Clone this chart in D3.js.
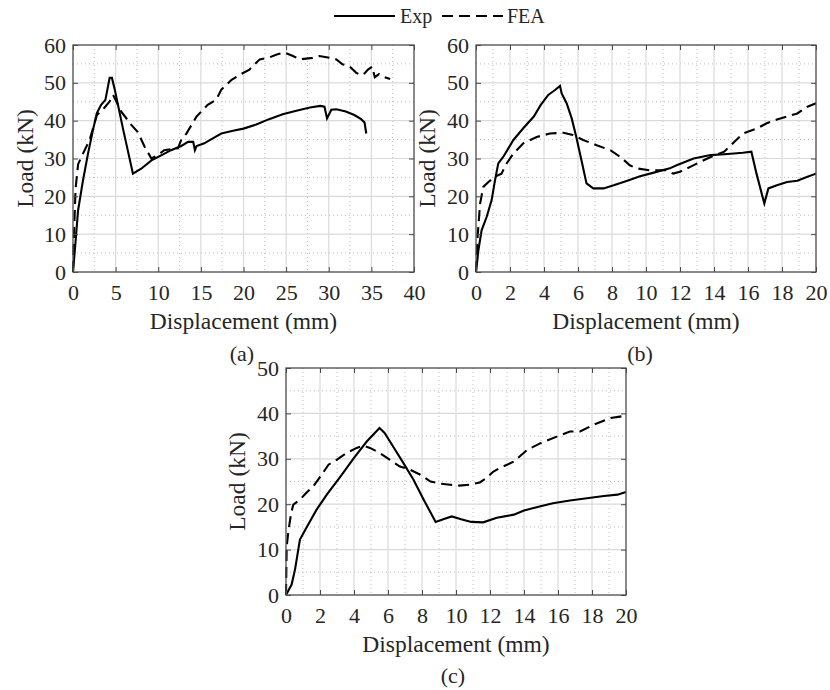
<!DOCTYPE html>
<html><head><meta charset="utf-8">
<script src="https://cdn.jsdelivr.net/npm/d3@7"></script>
<style>body{margin:0;background:#fff;} svg{display:block;}</style>
</head><body>
<svg id="chart" width="830" height="690"></svg>
<script>
// ---------------- DATA ----------------
const seriesNames = ["Exp", "FEA"];
const panelLabels = ["(a)", "(b)", "(c)"];
const xLabel = "Displacement (mm)";
const yLabel = "Load (kN)";

const ticksXA = [0,5,10,15,20,25,30,35,40];
const ticksXB = [0,2,4,6,8,10,12,14,16,18,20];
const ticksY60 = [0,10,20,30,40,50,60];
const ticksY50 = [0,10,20,30,40,50];

const expA = [[0,0],[0.3,8],[0.59,16.2],[1.17,24.2],[1.76,31.3],[2.34,37.5],[2.8,42],[3.3,44.2],[3.8,45.5],[4.1,49],[4.3,51.3],[4.57,51.3],[4.9,48.2],[5.9,37.5],[7.03,26],[8,27.3],[9.2,29.5],[10.4,30.9],[11.5,32.2],[12.7,33.3],[13.5,34.4],[14.1,34.4],[14.3,32.2],[14.5,33.3],[15.4,34],[16.4,35.3],[17.4,36.6],[18.9,37.4],[20,37.9],[21.5,39],[23,40.4],[24.6,41.7],[26.2,42.6],[27.8,43.5],[29,43.9],[29.5,43.7],[29.8,40.6],[30.3,42.9],[30.9,43],[32,42.4],[33,41.5],[33.8,40.4],[34.2,39.5],[34.4,36.6]];
const feaA = [[0,0],[0.1,9],[0.3,22],[0.6,28.5],[1.17,31.3],[1.95,34.9],[2.8,41.5],[3.5,42.9],[4.3,45.1],[4.7,46.8],[5.1,45],[5.66,42.4],[6.84,38.9],[7.6,37],[8.4,33.1],[9.2,30],[10,31],[10.7,32.2],[12.3,32.7],[12.7,34.9],[13.3,36.6],[14.5,41.1],[15.8,44.2],[16.8,45.5],[17.4,48.2],[18.6,50.8],[19.6,52.2],[20.7,53.5],[21.9,56.2],[22.9,56.6],[23.9,57.5],[24.8,58],[25.8,57.1],[26.6,56.2],[28.1,56.6],[28.9,57.1],[30.1,56.6],[30.9,56.2],[31.6,54.9],[32.4,54.4],[33.2,52.7],[33.8,52],[34.2,52.5],[34.6,53.5],[35.1,54.3],[35.4,51.5],[35.9,52.3],[36.4,51.6],[37.2,51]];

const expB = [[0,0],[0.14,5.7],[0.33,11],[0.63,14.6],[0.92,19],[1.12,24.3],[1.31,28.7],[1.6,30.4],[2.2,34.9],[2.78,38],[3.4,41.1],[3.8,44.1],[4.25,46.8],[4.65,48.1],[4.94,49.2],[5.04,47.2],[5.33,44.6],[5.63,40.6],[5.9,35.7],[6.2,29.6],[6.5,23.4],[6.9,22.1],[7.5,22.1],[8.1,22.9],[8.9,24.1],[9.65,25.3],[10.4,26.2],[11.4,27.4],[11.8,28.2],[12.8,30],[13.8,30.9],[14.8,31.2],[15.7,31.5],[16.2,31.8],[16.5,26],[16.96,18.1],[17.2,22.1],[17.7,22.9],[18.3,23.8],[18.9,24.1],[19.5,25.2],[20,26]];
const feaB = [[0,0],[0.08,8.4],[0.24,18.1],[0.43,22.5],[0.73,23.8],[1.12,25.2],[1.5,26],[1.8,28.7],[2.2,31.3],[2.78,34],[3.57,35.7],[4.35,36.6],[5.14,36.8],[5.7,36.2],[6.3,34.9],[7.1,33.5],[7.9,32.2],[8.5,30.4],[9.05,28.2],[9.45,27.4],[10.2,26.9],[10.8,26.9],[11.2,26.9],[11.6,26],[12,26.5],[12.6,27.8],[13.2,29.1],[13.8,30.4],[14.6,31.8],[15.2,34.4],[15.7,36.6],[16.5,37.9],[17.1,39.3],[17.7,40.3],[18.3,41.1],[18.9,41.9],[19.5,43.7],[20,44.6]];

const expC = [[0,0],[0.33,2.3],[0.53,5.6],[0.82,12.2],[1.2,14.8],[1.8,18.8],[2.4,22.1],[3.2,26.1],[4,30.2],[4.75,33.8],[5.5,36.8],[5.8,35.7],[6.3,32.7],[6.9,29.1],[7.5,25.4],[8.1,21],[8.8,16.1],[9.25,16.7],[9.75,17.3],[10.3,16.7],[10.9,16.1],[11.6,16],[12.4,17],[13.4,17.7],[14,18.6],[14.8,19.4],[15.7,20.2],[16.7,20.8],[17.7,21.3],[18.7,21.8],[19.5,22.1],[20,22.7]];
const feaC = [[0,0],[0.04,10.7],[0.14,14],[0.3,18],[0.43,19.9],[0.82,21],[1.2,22.5],[1.6,23.9],[2.1,26.5],[2.5,28.7],[3,29.8],[3.57,31.3],[4.16,32.4],[4.55,32.9],[4.94,32.4],[5.5,31.3],[6.1,29.8],[6.7,28.3],[7.3,27.6],[7.9,26.5],[8.5,25],[9.1,24.5],[9.65,24.3],[10.2,24.1],[10.8,24.3],[11.4,24.8],[11.8,25.8],[12.2,27.2],[12.6,28],[13.4,29.4],[14.2,32],[15,33.5],[16,35],[16.7,36],[17.3,36],[18.1,37.5],[19.1,39],[20,39.5]];

// ---------------- DRAW ----------------
const svg = d3.select("#chart");
const FONT = "Liberation Serif";
const TXT = "#262626";
const DASH = "11,6";

const panels = [
  {rect:[73,45,414,272], xd:[0,40], yd:[0,60], xt:ticksXA, yt:ticksY60, xminor:2.5, yminor:5, exp:expA, fea:feaA, ylabX:25},
  {rect:[476,45,816,272], xd:[0,20], yd:[0,60], xt:ticksXB, yt:ticksY60, xminor:1, yminor:5, exp:expB, fea:feaB, ylabX:427},
  {rect:[286,368,626,595], xd:[0,20], yd:[0,50], xt:ticksXB, yt:ticksY50, xminor:1, yminor:5, exp:expC, fea:feaC, ylabX:237}
];

panels.forEach((p, i) => {
  const [x0,y0,x1,y1] = p.rect;
  const x = d3.scaleLinear().domain(p.xd).range([x0,x1]);
  const y = d3.scaleLinear().domain(p.yd).range([y1,y0]);
  const g = svg.append("g");

  // minor grid (dotted)
  const xm = d3.range(p.xd[0] + p.xminor, p.xd[1], p.xminor*2);
  const ym = d3.range(p.yd[0] + p.yminor, p.yd[1], p.yminor*2);
  g.append("g").selectAll("line").data(xm).join("line")
    .attr("x1", d => x(d)).attr("x2", d => x(d)).attr("y1", y0).attr("y2", y1)
    .attr("stroke", "#bdbdbd").attr("stroke-width", 1).attr("stroke-dasharray", "1,3");
  g.append("g").selectAll("line").data(ym).join("line")
    .attr("y1", d => y(d)).attr("y2", d => y(d)).attr("x1", x0).attr("x2", x1)
    .attr("stroke", "#bdbdbd").attr("stroke-width", 1).attr("stroke-dasharray", "1,3");
  // major grid
  g.append("g").selectAll("line").data(p.xt.slice(1,-1)).join("line")
    .attr("x1", d => x(d)).attr("x2", d => x(d)).attr("y1", y0).attr("y2", y1)
    .attr("stroke", "#dadada").attr("stroke-width", 1.2);
  g.append("g").selectAll("line").data(p.yt.slice(1,-1)).join("line")
    .attr("y1", d => y(d)).attr("y2", d => y(d)).attr("x1", x0).attr("x2", x1)
    .attr("stroke", "#dadada").attr("stroke-width", 1.2);

  // series
  const line = d3.line().x(d => x(d[0])).y(d => y(d[1]));
  g.append("path").datum(p.fea).attr("d", line).attr("fill","none")
    .attr("stroke","#000").attr("stroke-width",2.1).attr("stroke-dasharray", DASH);
  g.append("path").datum(p.exp).attr("d", line).attr("fill","none")
    .attr("stroke","#000").attr("stroke-width",2.1);

  // axes with inward ticks (MATLAB style box)
  const ax = (axis, tr) => {
    const a = g.append("g").attr("transform", tr).call(axis);
    a.attr("font-family", FONT).attr("font-size", 22);
    a.select(".domain").remove();
    a.selectAll(".tick line").attr("stroke", "#4a4a4a");
    a.selectAll("text").attr("font-family", FONT).attr("font-size", 22).attr("fill", TXT);
    return a;
  };
  ax(d3.axisBottom(x).tickValues(p.xt).tickSize(-5).tickPadding(12).tickFormat(d3.format("d")), `translate(0,${y1})`);
  ax(d3.axisTop(x).tickValues(p.xt).tickSize(-5).tickFormat(""), `translate(0,${y0})`);
  ax(d3.axisLeft(y).tickValues(p.yt).tickSize(-5).tickPadding(7).tickFormat(d3.format("d")), `translate(${x0},0)`);
  ax(d3.axisRight(y).tickValues(p.yt).tickSize(-5).tickFormat(""), `translate(${x1},0)`);

  g.append("rect").attr("x", x0).attr("y", y0).attr("width", x1-x0).attr("height", y1-y0)
    .attr("fill","none").attr("stroke","#4a4a4a").attr("stroke-width",1.3);

  // axis labels
  g.append("text").attr("x", (x0+x1)/2).attr("y", y1+57).attr("text-anchor","middle")
    .attr("font-family", FONT).attr("font-size", 23.5).attr("fill", TXT).text(xLabel);
  g.append("text").attr("transform", `translate(${p.ylabX + 8},${(y0+y1)/2}) rotate(-90)`)
    .attr("text-anchor","middle").attr("font-family", FONT).attr("font-size", 23.5).attr("fill", TXT).text(yLabel);
});

// panel labels
const labelPos = [[242,361],[640,361],[453,683]];
svg.selectAll("text.plab").data(panelLabels).join("text").attr("class","plab")
  .attr("x", (d,i) => labelPos[i][0]).attr("y", (d,i) => labelPos[i][1])
  .attr("text-anchor","middle").attr("font-family", FONT).attr("font-size", 22).attr("fill", TXT)
  .text(d => d);

// legend
const lg = svg.append("g");
lg.append("line").attr("x1",334).attr("x2",395).attr("y1",16).attr("y2",16).attr("stroke","#000").attr("stroke-width",2);
lg.append("text").attr("x",400).attr("y",23).attr("font-family",FONT).attr("font-size",20).attr("fill",TXT).text(seriesNames[0]);
lg.append("line").attr("x1",442).attr("x2",503).attr("y1",16).attr("y2",16).attr("stroke","#000").attr("stroke-width",2).attr("stroke-dasharray",DASH);
lg.append("text").attr("x",507).attr("y",23).attr("font-family",FONT).attr("font-size",20).attr("fill",TXT).text(seriesNames[1]);
</script>
</body></html>
